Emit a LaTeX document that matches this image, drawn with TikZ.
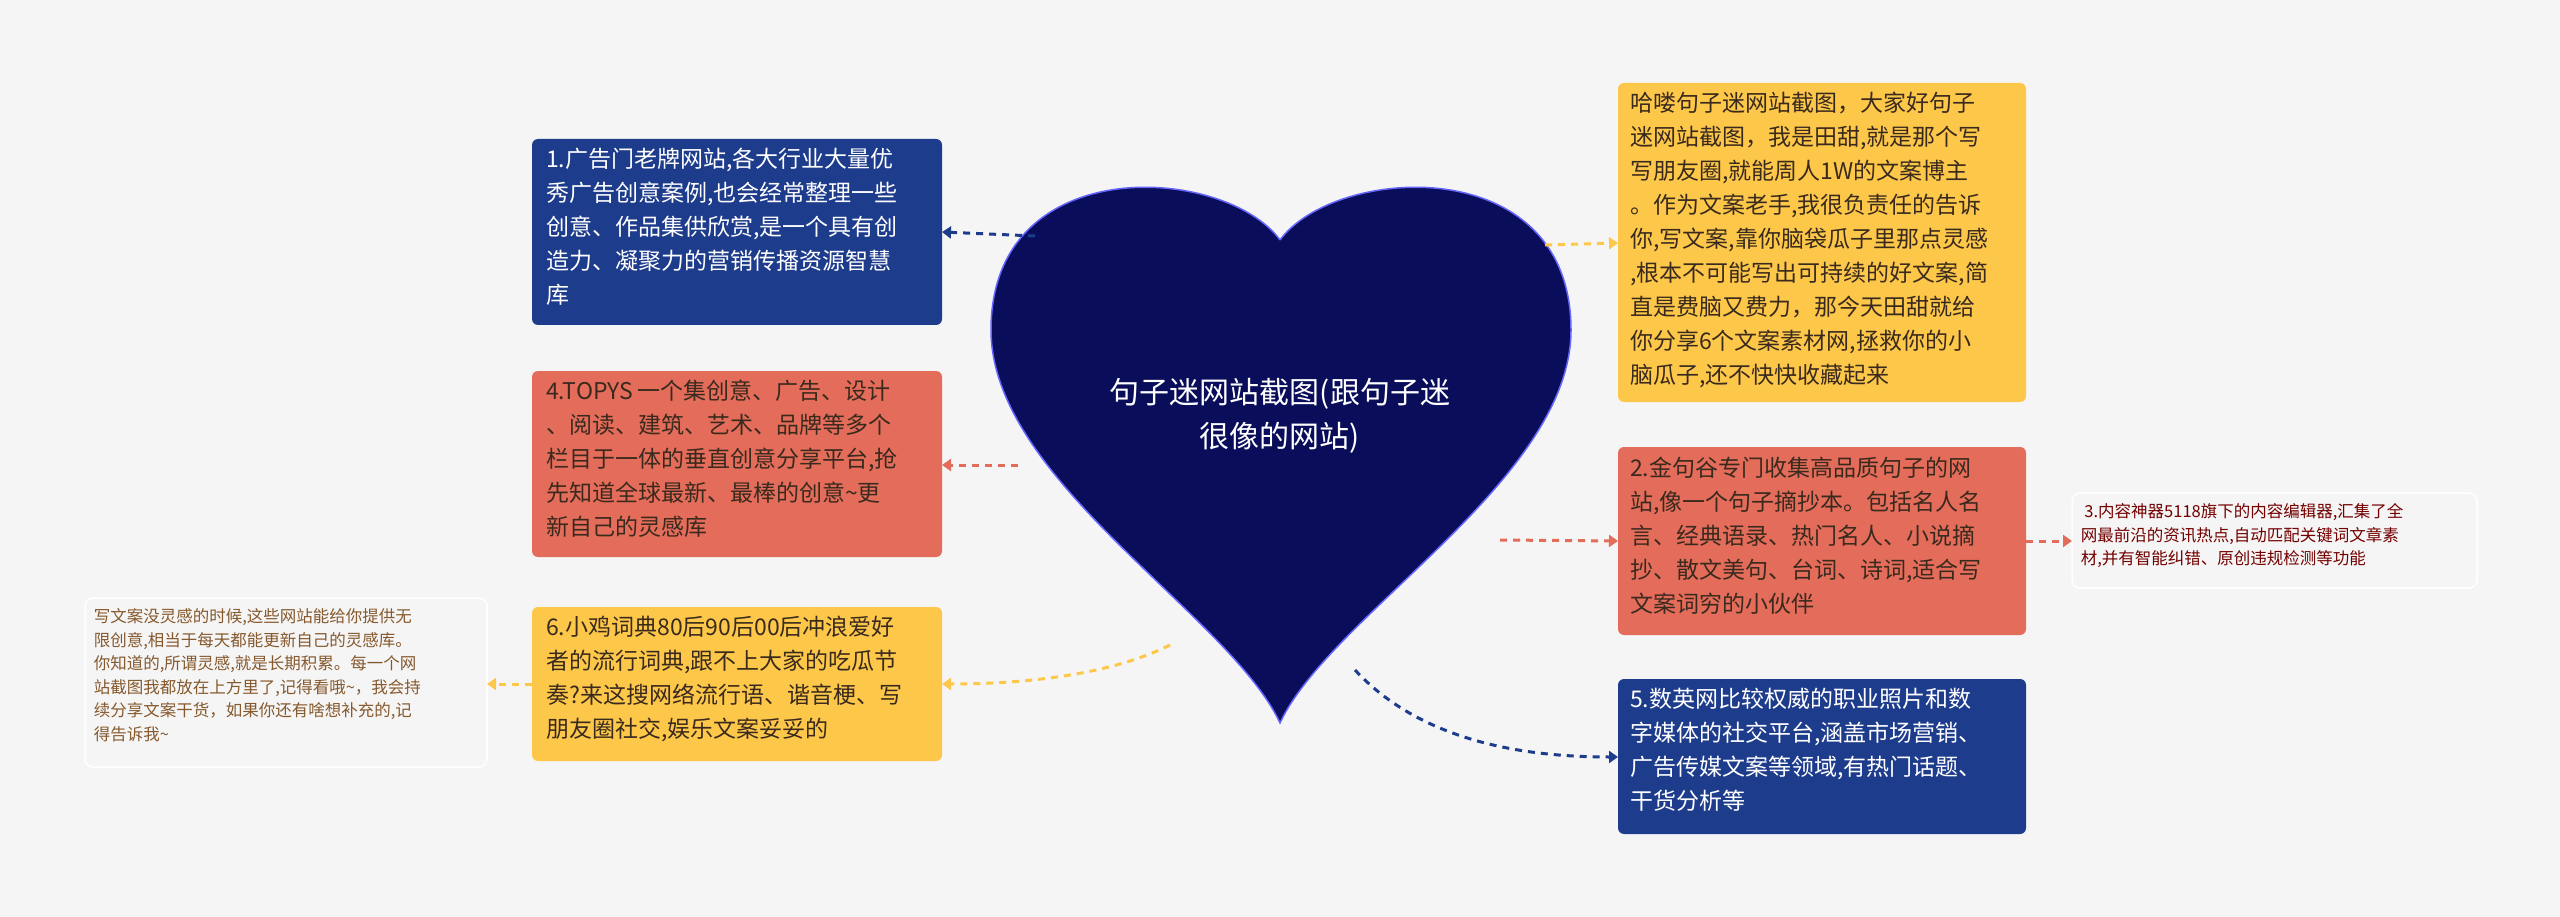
\documentclass[tikz,border=0pt]{standalone}
\usepackage{fontspec}
\setmainfont{Noto Sans CJK SC}
\usetikzlibrary{arrows.meta}
\definecolor{bgc}{HTML}{F5F5F5}
\definecolor{heartc}{HTML}{0A0E5A}
\definecolor{bluec}{HTML}{1E3C8C}
\definecolor{redc}{HTML}{E46C5A}
\definecolor{yellowc}{HTML}{FDC84A}
\definecolor{darktxt}{HTML}{3A2A1E}
\tikzset{
	topic/.style={rectangle, rounded corners=6pt, anchor=north west, align=left,
		inner sep=0pt, font=\fontsize{23}{34}\selectfont},
	note/.style={rectangle, rounded corners=8pt, anchor=north west, align=left,
		draw=white, line width=1.5pt, fill=bgc, inner sep=0pt, font=\fontsize{16.5}{23.5}\selectfont},
	link/.style={dashed, line width=3pt, dash pattern=on 7pt off 6pt, -{Triangle[length=9pt,width=12pt]}}
}
\begin{document}
\begin{tikzpicture}[x=1pt, y=-1pt]
	\useasboundingbox[fill=bgc] (0,0) rectangle (2560,917);
	% heart
	\draw[fill=heartc, draw=blue!60, line width=1.5pt]
		(1280,240) .. controls (1335,165) and (1571,150) .. (1571,330)
		.. controls (1571,480) and (1330,615) .. (1280,723)
		.. controls (1230,615) and (991,480) .. (991,330)
		.. controls (991,150) and (1225,165) .. (1280,240);
	\node[text=white, align=center, font=\fontsize{30}{44}\selectfont] (root) at (1280,416)
		{句子迷网站截图(跟句子迷\\很像的网站)};
	% left topics
	\fill[bluec, rounded corners=6pt] (532,139) rectangle (942,325);
	\node[topic, text=white] (t1) at (546,148) {1.广告门老牌网站,各大行业大量优\\秀广告创意案例,也会经常整理一些\\创意、作品集供欣赏,是一个具有创\\造力、凝聚力的营销传播资源智慧\\库};
	\fill[redc, rounded corners=6pt] (532,371) rectangle (942,557);
	\node[topic, text=darktxt] (t4) at (546,380) {4.TOPYS 一个集创意、广告、设计\\、阅读、建筑、艺术、品牌等多个\\栏目于一体的垂直创意分享平台,抢\\先知道全球最新、最棒的创意\textasciitilde 更\\新自己的灵感库};
	\fill[yellowc, rounded corners=6pt] (532,607) rectangle (942,761);
	\node[topic, text=darktxt] (t6) at (546,616) {6.小鸡词典80后90后00后冲浪爱好\\者的流行词典,跟不上大家的吃瓜节\\奏?来这搜网络流行语、谐音梗、写\\朋友圈社交,娱乐文案妥妥的};
	\draw[note] (85,598) rectangle (487,767);
	\node[note, draw=none, fill=none, text=brown!70!black] (n6) at (93,608) {写文案没灵感的时候,这些网站能给你提供无\\限创意,相当于每天都能更新自己的灵感库。\\你知道的,所谓灵感,就是长期积累。每一个网\\站截图我都放在上方里了,记得看哦\textasciitilde ，我会持\\续分享文案干货，如果你还有啥想补充的,记\\得告诉我\textasciitilde};
	% right topics
	\fill[yellowc, rounded corners=6pt] (1618,83) rectangle (2026,402);
	\node[topic, text=darktxt] (t0) at (1630,92) {哈喽句子迷网站截图，大家好句子\\迷网站截图，我是田甜,就是那个写\\写朋友圈,就能周人1W的文案博主\\。作为文案老手,我很负责任的告诉\\你,写文案,靠你脑袋瓜子里那点灵感\\,根本不可能写出可持续的好文案,简\\直是费脑又费力，那今天田甜就给\\你分享6个文案素材网,拯救你的小\\脑瓜子,还不快快收藏起来};
	\fill[redc, rounded corners=6pt] (1618,447) rectangle (2026,635);
	\node[topic, text=darktxt] (t2) at (1630,457) {2.金句谷专门收集高品质句子的网\\站,像一个句子摘抄本。包括名人名\\言、经典语录、热门名人、小说摘\\抄、散文美句、台词、诗词,适合写\\文案词穷的小伙伴};
	\draw[note] (2072,493) rectangle (2477,588);
	\node[note, draw=none, fill=none, text=red!45!black] (n2) at (2080,503) {\ 3.内容神器5118旗下的内容编辑器,汇集了全\\网最前沿的资讯热点,自动匹配关键词文章素\\材,并有智能纠错、原创违规检测等功能};
	\fill[bluec, rounded corners=6pt] (1618,679) rectangle (2026,834);
	\node[topic, text=white] (t5) at (1630,688) {5.数英网比较权威的职业照片和数\\字媒体的社交平台,涵盖市场营销、\\广告传媒文案等领域,有热门话题、\\干货分析等};
	% connectors
	\coordinate (h1) at (1035,236);
	\coordinate (h4) at (1018,465);
	\coordinate (h6) at (1170,645);
	\coordinate (h0) at (1545,245);
	\coordinate (h2) at (1500,540);
	\coordinate (h5) at (1355,670);
	\coordinate (e1) at (942,232);
	\coordinate (e4) at (942,465);
	\coordinate (e6) at (942,684);
	\coordinate (w6) at (532,684);
	\coordinate (en6) at (487,684);
	\coordinate (w0) at (1618,243);
	\coordinate (w2) at (1618,541);
	\coordinate (e2) at (2026,541);
	\coordinate (w3) at (2072,541);
	\coordinate (w5) at (1618,757);
	\draw[link, bluec] (h1) -- (e1);
	\draw[link, redc] (h4) -- (e4);
	\draw[link, yellowc] (h6) .. controls (1100,680) and (1000,684) .. (e6);
	\draw[link, yellowc] (w6) -- (en6);
	\draw[link, yellowc] (h0) -- (w0);
	\draw[link, redc] (h2) -- (w2);
	\draw[link, redc] (e2) -- (w3);
	\draw[link, bluec] (h5) .. controls (1420,740) and (1520,757) .. (w5);
\end{tikzpicture}
\end{document}
